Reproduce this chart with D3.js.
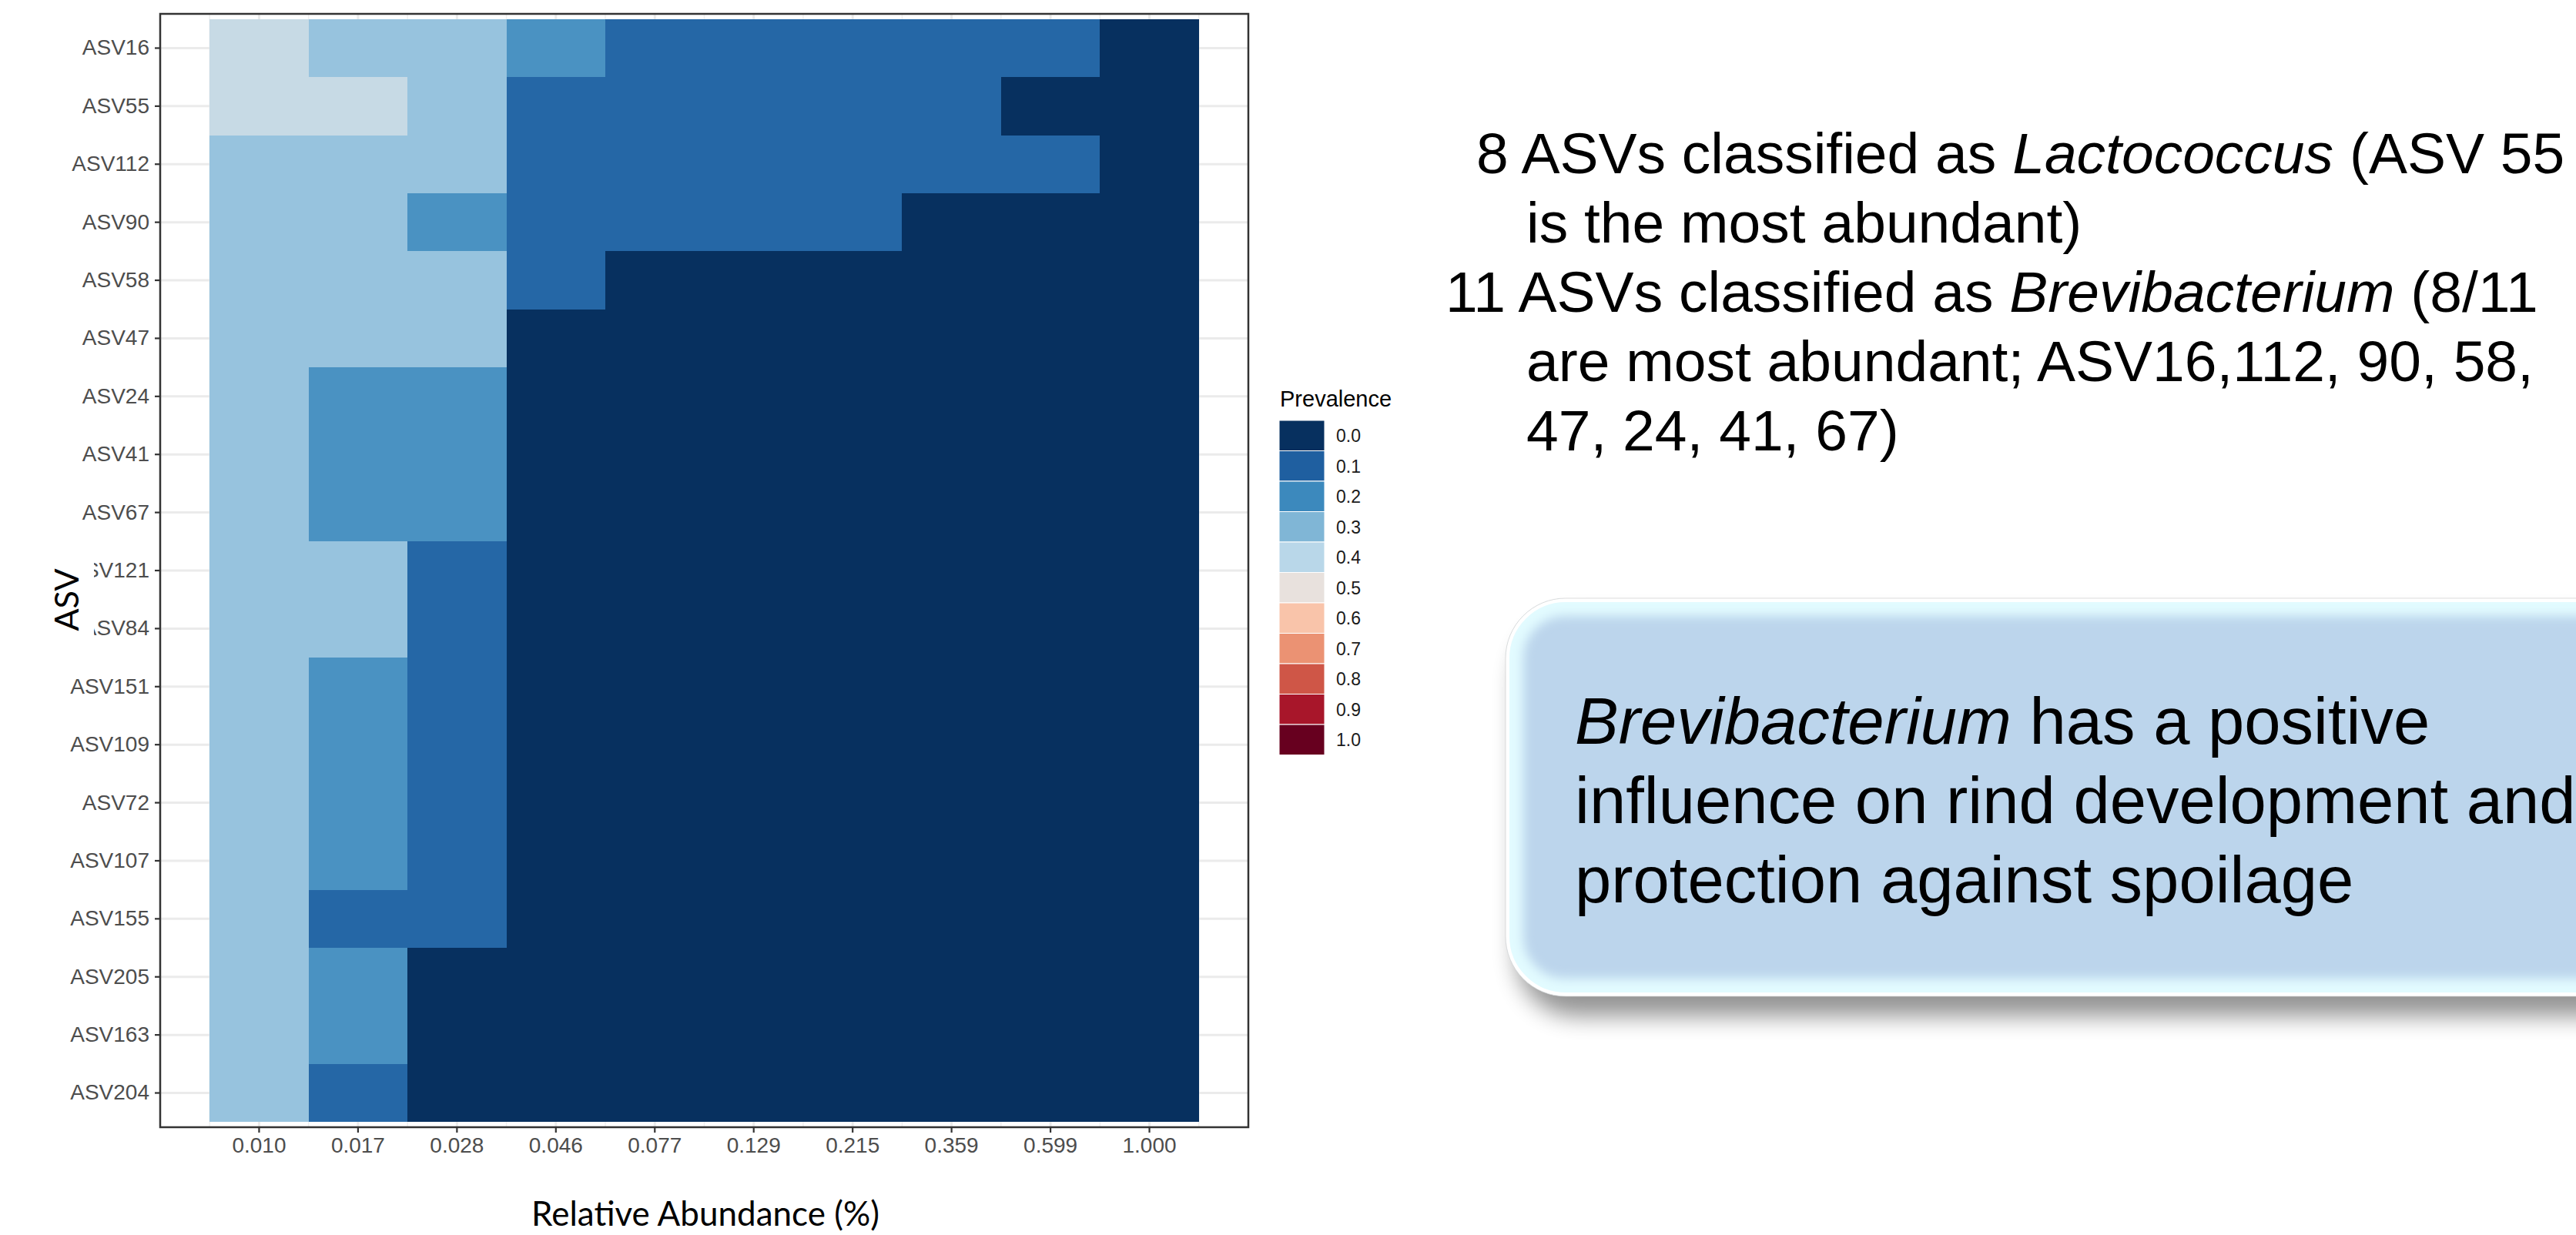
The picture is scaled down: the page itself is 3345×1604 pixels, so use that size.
<!DOCTYPE html>
<html>
<head>
<meta charset="utf-8">
<script src="https://cdn.jsdelivr.net/npm/d3@7"></script>
<style>
  html, body { margin: 0; padding: 0; background: #ffffff; }
  svg { display: block; }
</style>
</head>
<body>
<svg id="fig" width="3345" height="1604"></svg>
<script>
// ---- data -----------------------------------------------------------------
// ASVs, top to bottom
const asvs = ["ASV16", "ASV55", "ASV112", "ASV90", "ASV58", "ASV47", "ASV24", "ASV41",
  "ASV67", "ASV121", "ASV84", "ASV151", "ASV109", "ASV72", "ASV107", "ASV155",
  "ASV205", "ASV163", "ASV204"];

// detection thresholds (relative abundance, %)
const detections = ["0.010", "0.017", "0.028", "0.046", "0.077", "0.129", "0.215", "0.359", "0.599", "1.000"];

// prevalence of each ASV at each detection threshold (one row per ASV)
const prevalence = [
  [0.43, 0.34, 0.34, 0.22, 0.12, 0.12, 0.12, 0.12, 0.12, 0.00], // ASV16
  [0.43, 0.43, 0.34, 0.12, 0.12, 0.12, 0.12, 0.12, 0.00, 0.00], // ASV55
  [0.34, 0.34, 0.34, 0.12, 0.12, 0.12, 0.12, 0.12, 0.12, 0.00], // ASV112
  [0.34, 0.34, 0.22, 0.12, 0.12, 0.12, 0.12, 0.00, 0.00, 0.00], // ASV90
  [0.34, 0.34, 0.34, 0.12, 0.00, 0.00, 0.00, 0.00, 0.00, 0.00], // ASV58
  [0.34, 0.34, 0.34, 0.00, 0.00, 0.00, 0.00, 0.00, 0.00, 0.00], // ASV47
  [0.34, 0.22, 0.22, 0.00, 0.00, 0.00, 0.00, 0.00, 0.00, 0.00], // ASV24
  [0.34, 0.22, 0.22, 0.00, 0.00, 0.00, 0.00, 0.00, 0.00, 0.00], // ASV41
  [0.34, 0.22, 0.22, 0.00, 0.00, 0.00, 0.00, 0.00, 0.00, 0.00], // ASV67
  [0.34, 0.34, 0.12, 0.00, 0.00, 0.00, 0.00, 0.00, 0.00, 0.00], // ASV121
  [0.34, 0.34, 0.12, 0.00, 0.00, 0.00, 0.00, 0.00, 0.00, 0.00], // ASV84
  [0.34, 0.22, 0.12, 0.00, 0.00, 0.00, 0.00, 0.00, 0.00, 0.00], // ASV151
  [0.34, 0.22, 0.12, 0.00, 0.00, 0.00, 0.00, 0.00, 0.00, 0.00], // ASV109
  [0.34, 0.22, 0.12, 0.00, 0.00, 0.00, 0.00, 0.00, 0.00, 0.00], // ASV72
  [0.34, 0.22, 0.12, 0.00, 0.00, 0.00, 0.00, 0.00, 0.00, 0.00], // ASV107
  [0.34, 0.12, 0.12, 0.00, 0.00, 0.00, 0.00, 0.00, 0.00, 0.00], // ASV155
  [0.34, 0.22, 0.00, 0.00, 0.00, 0.00, 0.00, 0.00, 0.00, 0.00], // ASV205
  [0.34, 0.22, 0.00, 0.00, 0.00, 0.00, 0.00, 0.00, 0.00, 0.00], // ASV163
  [0.34, 0.12, 0.00, 0.00, 0.00, 0.00, 0.00, 0.00, 0.00, 0.00]  // ASV204
];

// prevalence legend: breaks, labels and the diverging palette
const legendBreaks = [0, 0.1, 0.2, 0.3, 0.4, 0.5, 0.6, 0.7, 0.8, 0.9, 1.0];
const legendLabels = ["0.0", "0.1", "0.2", "0.3", "0.4", "0.5", "0.6", "0.7", "0.8", "0.9", "1.0"];
const legendColors = ["#07305f", "#1f5fa0", "#3c89bd", "#80b6d6", "#b9d7e9", "#e8e1dd",
  "#f9c4aa", "#eb9273", "#cf5647", "#a8162a", "#67001f"];

// annotation text (segments: [text, italic])
const summaryLines = [
  { x: 1917, y: 225, seg: [["8 ASVs classified as ", false], ["Lactococcus", true], [" (ASV 55", false]] },
  { x: 1982, y: 315, seg: [["is the most abundant)", false]] },
  { x: 1877, y: 405, seg: [["11 ASVs classified as ", false], ["Brevibacterium", true], [" (8/11", false]] },
  { x: 1982, y: 495, seg: [["are most abundant; ASV16,112, 90, 58,", false]] },
  { x: 1982, y: 585, seg: [["47, 24, 41, 67)", false]] }
];
const calloutLines = [
  [["Brevibacterium", true], [" has a positive", false]],
  [["influence on rind development and", false]],
  [["protection against spoilage", false]]
];

// ---- layout ---------------------------------------------------------------
const svg = d3.select("#fig");
const panel = { x0: 208, y0: 18, x1: 1621, y1: 1464 };
const SANS = "'Liberation Sans', Arial, sans-serif";
const HUMANIST = "Lato, 'Open Sans', sans-serif";

const x = d3.scaleBand().domain(detections).range([panel.x0, panel.x1])
  .paddingInner(0).paddingOuter(0.5);
const y = d3.scaleBand().domain(asvs).range([panel.y0, panel.y1])
  .paddingInner(0).paddingOuter(0.09);
const fill = d3.scaleLinear().domain(legendBreaks).range(legendColors).clamp(true);

const defs = svg.append("defs");

// ---- heatmap panel --------------------------------------------------------
const plot = svg.append("g");
plot.append("rect").attr("x", panel.x0).attr("y", panel.y0)
  .attr("width", panel.x1 - panel.x0).attr("height", panel.y1 - panel.y0).attr("fill", "#ffffff");

// grid lines
const grid = plot.append("g");
const edges = detections.map(d => x(d)).concat([x(detections[detections.length - 1]) + x.bandwidth()]);
grid.selectAll("line.minor").data(edges).join("line")
  .attr("x1", d => d).attr("x2", d => d).attr("y1", panel.y0).attr("y2", panel.y1)
  .attr("stroke", "#f0f0f0").attr("stroke-width", 1.5);
grid.selectAll("line.vmajor").data(detections).join("line")
  .attr("x1", d => x(d) + x.bandwidth() / 2).attr("x2", d => x(d) + x.bandwidth() / 2)
  .attr("y1", panel.y0).attr("y2", panel.y1)
  .attr("stroke", "#ebebeb").attr("stroke-width", 3);
grid.selectAll("line.hmajor").data(asvs).join("line")
  .attr("y1", d => y(d) + y.bandwidth() / 2).attr("y2", d => y(d) + y.bandwidth() / 2)
  .attr("x1", panel.x0).attr("x2", panel.x1)
  .attr("stroke", "#ebebeb").attr("stroke-width", 3);

// tiles
const cells = [];
asvs.forEach((a, i) => detections.forEach((d, j) => cells.push({ asv: a, det: d, v: prevalence[i][j] })));
plot.append("g").selectAll("rect").data(cells).join("rect")
  .attr("x", d => x(d.det)).attr("y", d => y(d.asv))
  .attr("width", x.bandwidth()).attr("height", y.bandwidth())
  .attr("fill", d => fill(d.v))
  .attr("shape-rendering", "crispEdges");

// panel border
plot.append("rect").attr("x", panel.x0).attr("y", panel.y0)
  .attr("width", panel.x1 - panel.x0).attr("height", panel.y1 - panel.y0)
  .attr("fill", "none").attr("stroke", "#333333").attr("stroke-width", 2.5);

// axes
function styleAxis(g) {
  g.select(".domain").remove();
  g.selectAll(".tick line").attr("stroke", "#333333").attr("stroke-width", 2.2);
  g.selectAll(".tick text").attr("fill", "#4d4d4d")
    .style("font-family", SANS).style("font-size", "28px");
}
svg.append("g").attr("transform", `translate(${panel.x0},0)`)
  .call(d3.axisLeft(y).tickSize(7).tickPadding(7)).call(styleAxis);
svg.append("g").attr("transform", `translate(0,${panel.y1})`)
  .call(d3.axisBottom(x).tickSize(7).tickPadding(6)).call(styleAxis);

// axis titles
svg.append("text").attr("x", 916).attr("y", 1592).attr("text-anchor", "middle")
  .style("font-family", HUMANIST).style("font-size", "44px").attr("fill", "#000")
  .text("Relative Abundance (%)");

svg.append("rect").attr("x", 40).attr("y", 712).attr("width", 82).attr("height", 134).attr("fill", "#ffffff");
svg.append("text").attr("transform", "translate(102,779) rotate(-90)").attr("text-anchor", "middle")
  .style("font-family", HUMANIST).style("font-size", "43px").attr("fill", "#000")
  .text("ASV");

// ---- legend ---------------------------------------------------------------
const legend = svg.append("g").attr("transform", "translate(1661,546)");
const keyH = 39.5, keyW = 59;
legend.append("text").attr("x", 1).attr("y", -18)
  .style("font-family", SANS).style("font-size", "29px").attr("fill", "#000").text("Prevalence");
const keys = legend.selectAll("g.key").data(legendBreaks).join("g")
  .attr("transform", (d, i) => `translate(0,${i * keyH})`);
keys.append("rect").attr("width", keyW).attr("height", keyH)
  .attr("fill", d => fill(d)).attr("stroke", "#ffffff").attr("stroke-width", 1);
keys.append("text").attr("x", 74).attr("y", keyH / 2).attr("dy", "0.36em")
  .style("font-family", SANS).style("font-size", "23px").attr("fill", "#1a1a1a")
  .text((d, i) => legendLabels[i]);

// ---- summary text ---------------------------------------------------------
function writeLine(sel, line, size) {
  const t = sel.append("text").attr("x", line.x).attr("y", line.y)
    .style("font-family", SANS).style("font-size", size + "px").attr("fill", "#000")
    .attr("xml:space", "preserve");
  line.seg.forEach(([s, it]) => t.append("tspan").style("font-style", it ? "italic" : "normal").text(s));
}
const notes = svg.append("g");
summaryLines.forEach(l => writeLine(notes, l, 75));

// ---- callout box ----------------------------------------------------------
const box = { x: 1955, y: 777, w: 1560, h: 517, r: 78 };
defs.append("filter").attr("id", "shadowBlur").attr("x", "-10%").attr("y", "-20%")
  .attr("width", "120%").attr("height", "150%")
  .append("feGaussianBlur").attr("stdDeviation", 15);
defs.append("filter").attr("id", "glowBlur").attr("x", "-10%").attr("y", "-20%")
  .attr("width", "120%").attr("height", "140%")
  .append("feGaussianBlur").attr("stdDeviation", 7);
defs.append("clipPath").attr("id", "boxClip").append("rect")
  .attr("x", box.x).attr("y", box.y).attr("width", box.w).attr("height", box.h).attr("rx", box.r);

const callout = svg.append("g");
callout.append("rect").attr("x", box.x + 14).attr("y", box.y + 26)
  .attr("width", box.w).attr("height", box.h).attr("rx", box.r)
  .attr("fill", "#000").attr("opacity", 0.42).attr("filter", "url(#shadowBlur)");
callout.append("rect").attr("x", box.x).attr("y", box.y)
  .attr("width", box.w).attr("height", box.h).attr("rx", box.r).attr("fill", "#bcd5ec");
const rim = callout.append("g").attr("clip-path", "url(#boxClip)");
rim.append("rect").attr("x", box.x).attr("y", box.y)
  .attr("width", box.w).attr("height", box.h).attr("rx", box.r)
  .attr("fill", "none").attr("stroke", "#e2fbff").attr("stroke-width", 46).attr("filter", "url(#glowBlur)");
rim.append("rect").attr("x", box.x).attr("y", box.y)
  .attr("width", box.w).attr("height", box.h).attr("rx", box.r)
  .attr("fill", "none").attr("stroke", "#ffffff").attr("stroke-width", 10);
callout.append("rect").attr("x", box.x).attr("y", box.y)
  .attr("width", box.w).attr("height", box.h).attr("rx", box.r)
  .attr("fill", "none").attr("stroke", "#cfcfcf").attr("stroke-width", 1).attr("opacity", 0.7);

calloutLines.forEach((seg, i) => writeLine(callout, { x: 2045, y: 966 + i * 103, seg: seg }, 85));
</script>
</body>
</html>
